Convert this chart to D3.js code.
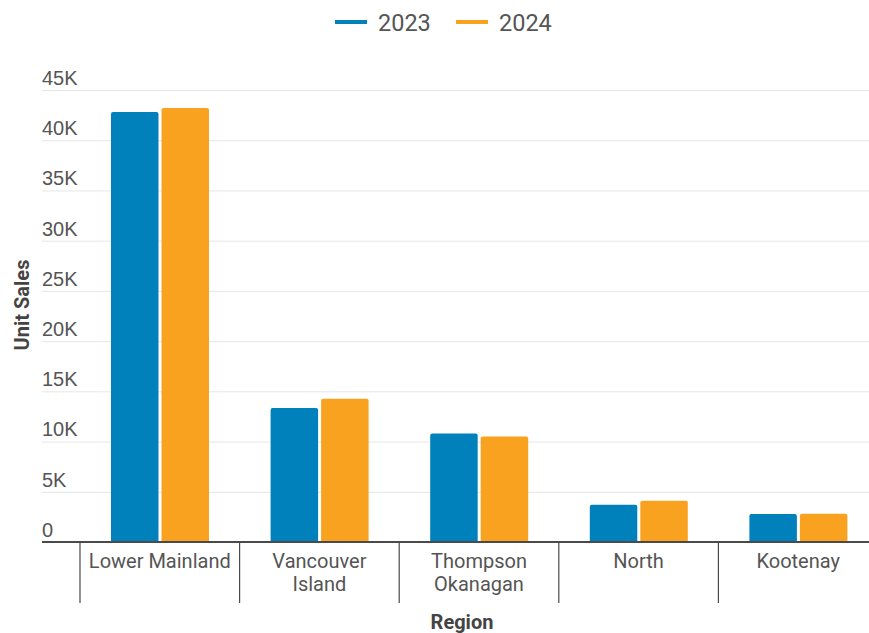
<!DOCTYPE html>
<html>
<head>
<meta charset="utf-8">
<script src="https://cdn.jsdelivr.net/npm/d3@7"></script>
<style>
  html, body { margin: 0; padding: 0; background: #fff; }
  svg { display: block; font-family: Roboto, "Noto Sans", sans-serif; }
</style>
</head>
<body>
<svg id="chart" width="869" height="633"></svg>
<script>
const regions = [["Lower Mainland"], ["Vancouver", "Island"], ["Thompson", "Okanagan"], ["North"], ["Kootenay"]];
const regionKeys = regions.map(r => r.join(" "));
const seriesNames = ["2023", "2024"];
const sales2023 = [42800, 13350, 10800, 3700, 2800];
const sales2024 = [43200, 14250, 10500, 4100, 2820];
const yTicks = [0, 5000, 10000, 15000, 20000, 25000, 30000, 35000, 40000, 45000];
const colors = ["#0081bb", "#f8a21f"];

const svg = d3.select("#chart");
const W = 869;
const gridLeft = 42, baseY = 542, topY = 90;

const x = d3.scaleBand().domain(regionKeys).range([80, 878]).paddingInner(0).paddingOuter(0);
const y = d3.scaleLinear().domain([0, 45000]).range([baseY, topY]);
const inner = d3.scaleBand().domain(seriesNames).range([31, 129]).paddingInner(0.06);

// gridlines + tick labels
const yAxis = d3.axisLeft(y).tickValues(yTicks).tickSize(-(W - gridLeft)).tickFormat(d => d === 0 ? "0" : d3.format("~s")(d).replace("k", "K"));
const yg = svg.append("g").attr("transform", `translate(${gridLeft},0)`).call(yAxis);
yg.select(".domain").remove();
yg.selectAll(".tick line").attr("stroke", "#e6e6e6").attr("stroke-width", 1);
yg.selectAll(".tick text")
  .attr("x", 0).attr("dy", "-0.28em")
  .attr("text-anchor", "start")
  .attr("fill", "#555").style("font-size", "20px");

// bars
const data = regionKeys.map((k, i) => ({ key: k, values: [sales2023[i], sales2024[i]] }));
const groups = svg.append("g").selectAll("g").data(data).join("g")
  .attr("transform", d => `translate(${x(d.key)},0)`);
groups.selectAll("path").data(d => d.values.map((v, j) => ({ s: seriesNames[j], v, j })))
  .join("path")
  .attr("fill", d => colors[d.j])
  .attr("d", d => {
    const x0 = inner(d.s), w = inner.bandwidth(), y0 = y(d.v), r = 2;
    return `M${x0},${baseY}V${y0 + r}Q${x0},${y0} ${x0 + r},${y0}H${x0 + w - r}Q${x0 + w},${y0} ${x0 + w},${y0 + r}V${baseY}Z`;
  });

// x axis
svg.append("line").attr("x1", gridLeft).attr("x2", W).attr("y1", baseY).attr("y2", baseY)
  .attr("stroke", "#4a4a4a").attr("stroke-width", 2);
const xg = svg.append("g");
xg.selectAll("line.div").data(regionKeys).join("line")
  .attr("x1", d => x(d)).attr("x2", d => x(d))
  .attr("y1", baseY).attr("y2", 603)
  .attr("stroke", "#4a4a4a").attr("stroke-width", 1.2);
xg.selectAll("text").data(regions).join("text")
  .attr("x", (d, i) => x(regionKeys[i]) + x.bandwidth() / 2)
  .attr("y", 568)
  .attr("text-anchor", "middle").attr("fill", "#555").style("font-size", "20px")
  .selectAll("tspan").data(d => d).join("tspan")
  .attr("x", function () { return this.parentNode.getAttribute("x"); })
  .attr("dy", (d, i) => i === 0 ? 0 : 23)
  .text(d => d);

// axis titles
svg.append("text").attr("x", 462).attr("y", 629).attr("text-anchor", "middle")
  .attr("fill", "#444").style("font-size", "20px").style("font-weight", "bold").text("Region");
svg.append("text").attr("transform", "translate(29,305) rotate(-90)").attr("text-anchor", "middle")
  .attr("fill", "#444").style("font-size", "20px").style("font-weight", "bold").text("Unit Sales");

// legend
const legend = svg.append("g").selectAll("g").data(seriesNames).join("g")
  .attr("transform", (d, i) => `translate(${335 + i * 121},22)`);
legend.append("line").attr("x1", 0).attr("x2", 32).attr("y1", 0).attr("y2", 0)
  .attr("stroke", (d, i) => colors[i]).attr("stroke-width", 4);
legend.append("text").attr("x", 43).attr("y", 8.5)
  .attr("fill", "#555").style("font-size", "23.5px").text(d => d);
</script>
</body>
</html>
